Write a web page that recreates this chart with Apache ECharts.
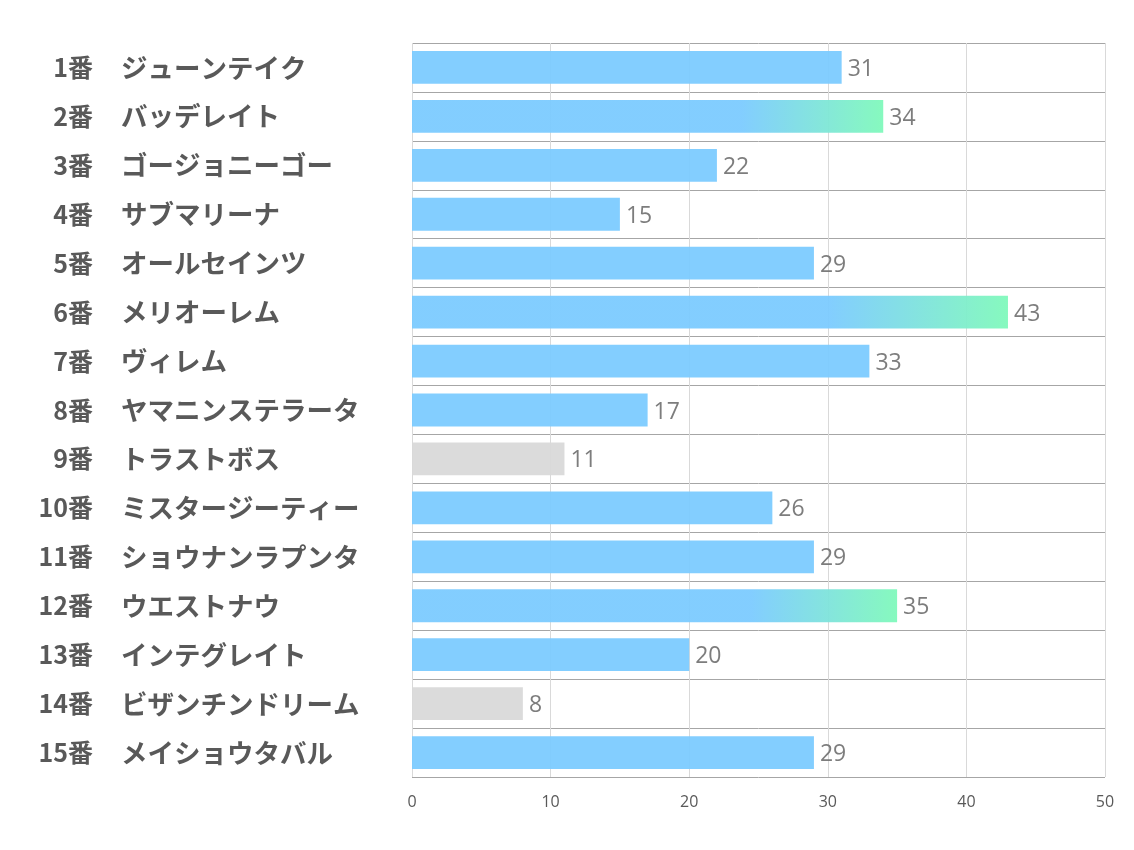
<!DOCTYPE html>
<html>
<head>
<meta charset="utf-8">
<script src="https://cdn.jsdelivr.net/npm/echarts@6/dist/echarts.min.js"></script>
<style>html,body{margin:0;padding:0;background:#fff;}#c{width:1134px;height:850px;}</style>
</head>
<body>
<div id="c"></div>
<script>
var numbers = ['1番','2番','3番','4番','5番','6番','7番','8番','9番','10番','11番','12番','13番','14番','15番'];
var names = ['ジューンテイク','バッデレイト','ゴージョニーゴー','サブマリーナ','オールセインツ','メリオーレム','ヴィレム','ヤマニンステラータ','トラストボス','ミスタージーティー','ショウナンラプンタ','ウエストナウ','インテグレイト','ビザンチンドリーム','メイショウタバル'];
var values = [31,34,22,15,29,43,33,17,11,26,29,35,20,8,29];
var xTicks = [0,10,20,30,40,50];

var BLUE = '#7ccbff', GREEN = '#80f9bb', GREY = '#d9d9d9';
var sorted = values.slice().sort(function(a,b){return b-a;});
var topCut = sorted[2], lowCut = sorted[sorted.length-2];
var data = values.map(function(v){
  var color;
  if (v >= topCut) {
    color = new echarts.graphic.LinearGradient(0,0,1,0,[
      {offset:0,color:BLUE},{offset:0.7,color:BLUE},{offset:1,color:GREEN}]);
  } else if (v <= lowCut) {
    color = GREY;
  } else {
    color = BLUE;
  }
  return {value:v, itemStyle:{color:color}};
});

var chart = echarts.init(document.getElementById('c'), null, {renderer:'canvas'});
var fontJP = '"Noto Sans CJK JP", "Noto Sans", sans-serif';
chart.setOption({
  animation:false,
  backgroundColor:'#fff',
  grid:{left:412, right:29, top:43, bottom:73},
  xAxis:{
    type:'value', min:xTicks[0], max:xTicks[xTicks.length-1], interval:10,
    axisLine:{show:false}, axisTick:{show:false},
    splitLine:{show:true, lineStyle:{color:'#d9d9d9', width:1}},
    axisLabel:{color:'#595959', fontSize:16, margin:17, fontFamily:'"Open Sans", sans-serif'}
  },
  yAxis:[{
    type:'category', data:names, inverse:true,
    axisLine:{show:false}, axisTick:{show:false},
    splitLine:{show:true, lineStyle:{color:'#a6a6a6', width:1}},
    axisLabel:{align:'left', margin:291, color:'#595959', fontSize:26.5, fontWeight:'bold', fontFamily:fontJP}
  },{
    type:'category', data:numbers, inverse:true, position:'left',
    axisLine:{show:false}, axisTick:{show:false}, splitLine:{show:false},
    axisLabel:{align:'right', margin:319, color:'#595959', fontSize:25, fontWeight:'bold', fontFamily:fontJP}
  }],
  series:[{
    type:'bar', data:data, yAxisIndex:0, barCategoryGap:'33%',
    itemStyle:{opacity:0.95},
    label:{show:true, position:'right', distance:6, offset:[0,2], color:'#767676', fontSize:23, fontFamily:'"Open Sans", sans-serif'}
  }]
});
</script>
</body>
</html>
